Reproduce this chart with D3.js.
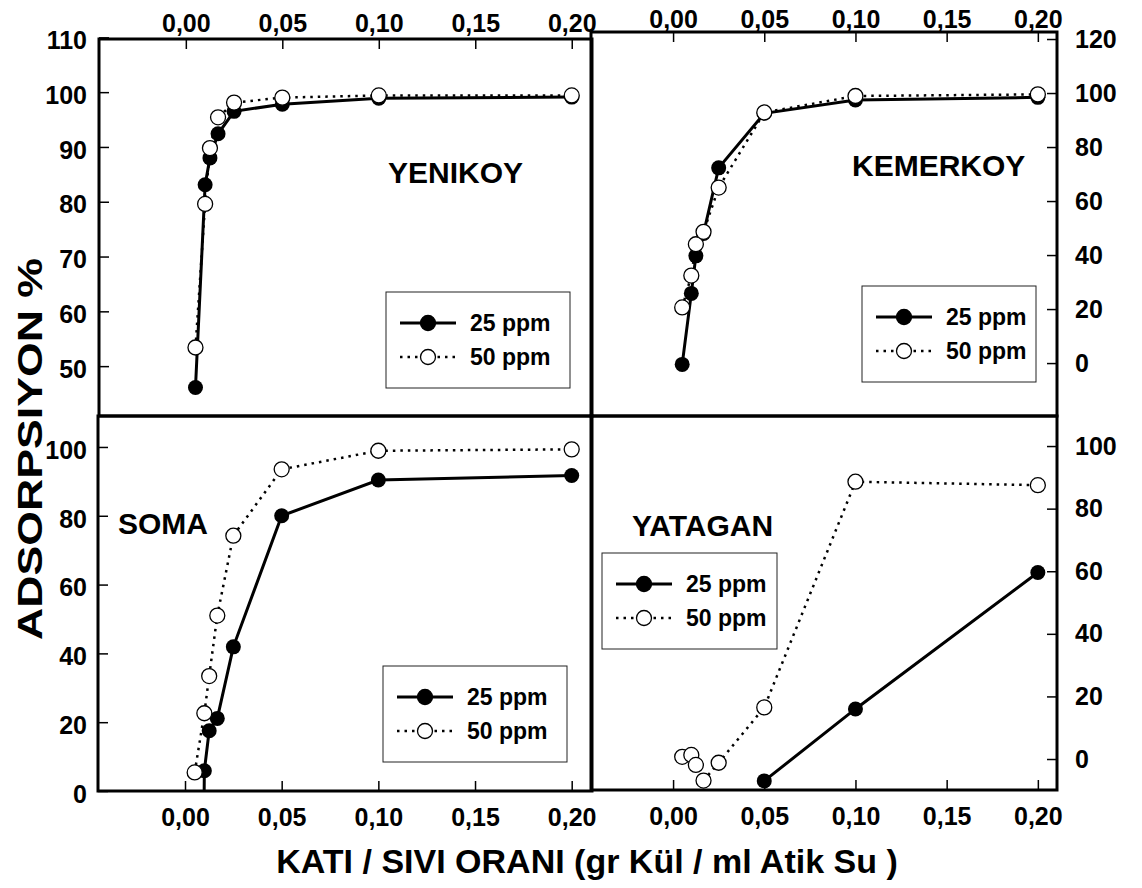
<!DOCTYPE html>
<html>
<head>
<meta charset="utf-8">
<script src="https://cdnjs.cloudflare.com/ajax/libs/d3/7.8.5/d3.min.js"></script>
<style>
body { margin: 0; background: #fff; }
svg text { font-family: 'Liberation Sans', Arial, sans-serif; font-weight: bold; fill: #000; }
svg .tick text { font-family: 'Liberation Sans Narrow', 'Arial Narrow', sans-serif; }
</style>
</head>
<body>
<svg id="chart" width="1142" height="888"></svg>
<script>
// x ticks shared by all four panels
var xTicks = [0, 0.05, 0.10, 0.15, 0.20];
var seriesNames = ['25 ppm', '50 ppm'];

// YENIKOY
var yenikoyRatio = [0.005, 0.01, 0.0125, 0.0167, 0.025, 0.05, 0.1, 0.2];
var yenikoy25 = [46.1, 83.1, 88.0, 92.4, 96.5, 97.8, 98.9, 99.1];
var yenikoy50 = [53.4, 79.6, 89.8, 95.4, 98.1, 99.0, 99.4, 99.4];

// KEMERKOY
var kemerkoyRatio = [0.005, 0.01, 0.0125, 0.0167, 0.025, 0.05, 0.1, 0.2];
var kemerkoy25 = [-0.5, 25.8, 39.7, 48.0, 72.3, 92.5, 97.4, 98.4];
var kemerkoy50 = [20.6, 32.4, 44.0, 48.6, 65.0, 92.8, 98.9, 99.5];

// SOMA
var somaRatio25 = [0.0098, 0.01, 0.0125, 0.0167, 0.025, 0.05, 0.1, 0.2];
var soma25 = [-8, 5.9, 17.5, 21.1, 41.9, 80.0, 90.4, 91.7];
var somaRatio50 = [0.005, 0.01, 0.0125, 0.0167, 0.025, 0.05, 0.1, 0.2];
var soma50 = [5.4, 22.6, 33.4, 51.0, 74.2, 93.5, 98.9, 99.3];

// YATAGAN
var yataganRatio25 = [0.05, 0.1, 0.2];
var yatagan25 = [-7.0, 16.0, 59.6];
var yataganRatio50 = [0.005, 0.01, 0.0125, 0.0167, 0.025, 0.05, 0.1, 0.2];
var yatagan50 = [0.7, 1.3, -1.9, -6.9, -1.2, 16.5, 88.6, 87.5];

var yTicksTopLeft = [50, 60, 70, 80, 90, 100, 110];
var yTicksTopRight = [0, 20, 40, 60, 80, 100, 120];
var yTicksBottom = [0, 20, 40, 60, 80, 100];

var fmt = d3.formatLocale({decimal: ',', thousands: '.', grouping: [3], currency: ['', '']}).format('.2f');

var svg = d3.select('#chart');

function styleAxis(g) {
    g.select('.domain').remove();
    g.selectAll('.tick text').style('font-size', '25px');
    g.selectAll('.tick line').attr('stroke-width', 1.5);
}

function drawPanel(cfg) {
    var x = d3.scaleLinear().domain([-0.045, 0.2105]).range([cfg.left, cfg.right]);
    var y = d3.scaleLinear().domain(cfg.yDomain).range([cfg.bottom, cfg.top]);
    var g = svg.append('g');
    var clipId = 'clip-' + cfg.name;

    g.append('clipPath').attr('id', clipId)
        .append('rect')
        .attr('x', cfg.left)
        .attr('y', cfg.top)
        .attr('width', cfg.right - cfg.left)
        .attr('height', cfg.bottom - cfg.top);

    var xAxis = (cfg.xSide == 'top' ? d3.axisTop(x) : d3.axisBottom(x))
        .tickValues(xTicks).tickFormat(fmt)
        .tickSizeInner(-10).tickSizeOuter(0).tickPadding(cfg.xPad);
    g.append('g')
        .attr('transform', 'translate(0,' + (cfg.xSide == 'top' ? cfg.top : cfg.bottom) + ')')
        .call(xAxis)
        .call(styleAxis);

    var yAxis = (cfg.ySide == 'left' ? d3.axisLeft(y) : d3.axisRight(y))
        .tickValues(cfg.yTicks)
        .tickSizeInner(-10).tickSizeOuter(0).tickPadding(cfg.yPad);
    var ya = g.append('g')
        .attr('transform', 'translate(' + (cfg.ySide == 'left' ? cfg.left : cfg.right) + ',0)')
        .call(yAxis)
        .call(styleAxis);
    if (cfg.ySide == 'left') {
        ya.selectAll('.tick text').attr('dy', '0.45em');
    }

    var line = d3.line()
        .x(function(d) { return x(d[0]); })
        .y(function(d) { return y(d[1]); });

    var plot = g.append('g').attr('clip-path', 'url(#' + clipId + ')');
    var s25 = d3.zip(cfg.ratio25, cfg.values25);
    var s50 = d3.zip(cfg.ratio50, cfg.values50);

    plot.append('path')
        .datum(s25)
        .attr('d', line)
        .attr('fill', 'none')
        .attr('stroke', '#000')
        .attr('stroke-width', 3);
    plot.selectAll('.dot25')
        .data(s25)
        .enter().append('circle')
        .attr('class', 'dot25')
        .attr('cx', function(d) { return x(d[0]); })
        .attr('cy', function(d) { return y(d[1]); })
        .attr('r', 7.5)
        .attr('fill', '#000');

    plot.append('path')
        .datum(s50)
        .attr('d', line)
        .attr('fill', 'none')
        .attr('stroke', '#000')
        .attr('stroke-width', 2.5)
        .attr('stroke-dasharray', '2.5,5');
    plot.selectAll('.dot50')
        .data(s50)
        .enter().append('circle')
        .attr('class', 'dot50')
        .attr('cx', function(d) { return x(d[0]); })
        .attr('cy', function(d) { return y(d[1]); })
        .attr('r', 7.5)
        .attr('fill', '#fff')
        .attr('stroke', '#000')
        .attr('stroke-width', 1.3);

    // frame
    g.append('rect')
        .attr('x', cfg.left)
        .attr('y', cfg.top)
        .attr('width', cfg.right - cfg.left)
        .attr('height', cfg.bottom - cfg.top)
        .attr('fill', 'none')
        .attr('stroke', '#000')
        .attr('stroke-width', 3);

    g.append('text')
        .attr('x', cfg.titleX)
        .attr('y', cfg.titleY)
        .attr('font-size', 30)
        .text(cfg.name);

    // legend
    var lg = g.append('g').attr('transform', 'translate(' + cfg.legend[0] + ',' + cfg.legend[1] + ')');
    lg.append('rect')
        .attr('width', cfg.legend[2])
        .attr('height', 96)
        .attr('fill', '#fff')
        .attr('stroke', '#222')
        .attr('stroke-width', 1);
    seriesNames.forEach(function(name, i) {
        var ry = 31 + i * 34;
        lg.append('line')
            .attr('x1', 14).attr('x2', 70)
            .attr('y1', ry).attr('y2', ry)
            .attr('stroke', '#000')
            .attr('stroke-width', i == 0 ? 3 : 2.5)
            .attr('stroke-dasharray', i == 0 ? null : '2.5,5');
        lg.append('circle')
            .attr('cx', 42).attr('cy', ry)
            .attr('r', 7.5)
            .attr('fill', i == 0 ? '#000' : '#fff')
            .attr('stroke', '#000')
            .attr('stroke-width', 1.3);
        lg.append('text')
            .attr('x', 84).attr('y', ry)
            .attr('dy', '0.35em')
            .attr('font-size', 23)
            .text(name);
    });
}

var panels = [
    {name: 'YENIKOY', left: 99, right: 592, top: 39, bottom: 416, yDomain: [40.9, 109.7],
     yTicks: yTicksTopLeft, ySide: 'left', yPad: 12, xSide: 'top', xPad: 7,
     ratio25: yenikoyRatio, values25: yenikoy25, ratio50: yenikoyRatio, values50: yenikoy50,
     titleX: 388, titleY: 183, legend: [386, 292, 184]},
    {name: 'KEMERKOY', left: 591, right: 1057, top: 32, bottom: 416, yDomain: [-19.6, 122.6],
     yTicks: yTicksTopRight, ySide: 'right', yPad: 18, xSide: 'top', xPad: 4,
     ratio25: kemerkoyRatio, values25: kemerkoy25, ratio50: kemerkoyRatio, values50: kemerkoy50,
     titleX: 852, titleY: 176, legend: [862, 286, 174]},
    {name: 'SOMA', left: 98, right: 592, top: 416, bottom: 791, yDomain: [0, 109],
     yTicks: yTicksBottom, ySide: 'left', yPad: 11, xSide: 'bottom', xPad: 17,
     ratio25: somaRatio25, values25: soma25, ratio50: somaRatio50, values50: soma50,
     titleX: 118, titleY: 534, legend: [383, 666, 184]},
    {name: 'YATAGAN', left: 591, right: 1057, top: 416, bottom: 790, yDomain: [-9.9, 109.6],
     yTicks: yTicksBottom, ySide: 'right', yPad: 18, xSide: 'bottom', xPad: 17,
     ratio25: yataganRatio25, values25: yatagan25, ratio50: yataganRatio50, values50: yatagan50,
     titleX: 632, titleY: 536, legend: [602, 553, 175]}
];

panels.forEach(drawPanel);

svg.append('text')
    .attr('transform', 'translate(42,449) rotate(-90)')
    .attr('text-anchor', 'middle')
    .attr('font-size', 35)
    .attr('textLength', 382)
    .attr('lengthAdjust', 'spacingAndGlyphs')
    .text('ADSORPSIYON %');

svg.append('text')
    .attr('x', 587)
    .attr('y', 873)
    .attr('text-anchor', 'middle')
    .attr('font-size', 34)
    .text('KATI / SIVI ORANI (gr Kül / ml Atik Su )');
</script>
</body>
</html>
